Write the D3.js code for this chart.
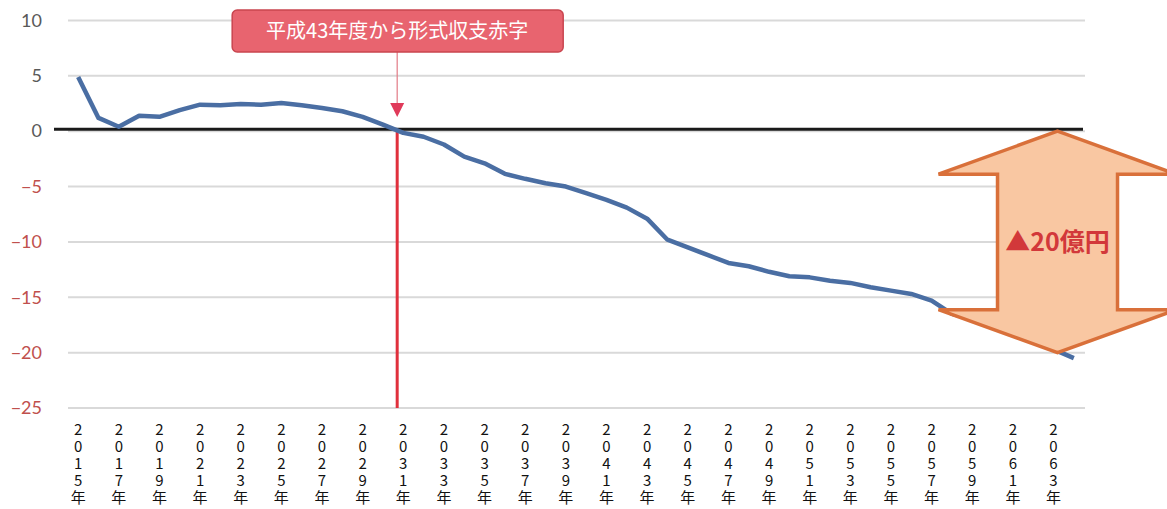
<!DOCTYPE html>
<html>
<head>
<meta charset="utf-8">
<script src="https://cdn.jsdelivr.net/npm/d3@7"></script>
<style>
  body { margin: 0; background: #fff; }
  svg { display: block; }
</style>
</head>
<body>
<svg></svg>
<script>
window.onload = () => {

  const width = 1167;
  const height = 509;

  // 2015年〜2064年 の収支（億円）
  const years = d3.range(2015, 2065);
  const balance = [
    4.9, 1.2, 0.4, 1.4, 1.3, 1.9, 2.4, 2.35, 2.45, 2.4,
    2.55, 2.35, 2.1, 1.8, 1.3, 0.6, -0.15, -0.5, -1.2, -2.3,
    -2.9, -3.85, -4.3, -4.7, -5.0, -5.6, -6.2, -6.9, -7.9, -9.8,
    -10.5, -11.2, -11.9, -12.2, -12.7, -13.1, -13.2, -13.5, -13.7, -14.1,
    -14.4, -14.7, -15.3, -16.5, -17.0, -17.6, -18.2, -18.9, -19.7, -20.5
  ];
  const yTicks = [10, 5, 0, -5, -10, -15, -20, -25];
  const xTickYears = years.filter(y => (y - 2015) % 2 === 0);

  const deficitYear = 2031;
  const calloutText = '平成43年度から形式収支赤字';
  const gapValue = -20;
  const gapText = '▲20億円';

  const svg = d3.select('svg').attr('width', width).attr('height', height);

  const x = d3.scaleBand().domain(years).range([68, 1084]);
  const y = d3.scaleLinear().domain([-25, 10]).range([408, 20.5]);
  const cx = yr => x(yr) + x.bandwidth() / 2;

  // grid
  svg.append('g')
    .selectAll('line')
    .data(yTicks)
    .enter()
    .append('line')
    .attr('x1', 68).attr('x2', 1085)
    .attr('y1', d => y(d)).attr('y2', d => y(d))
    .attr('stroke', '#d9d9d9')
    .attr('stroke-width', 2);

  // y axis labels
  const yAxis = svg.append('g')
    .attr('transform', 'translate(68,0)')
    .call(d3.axisLeft(y).tickValues(yTicks).tickSize(0).tickPadding(26));
  yAxis.select('.domain').remove();
  yAxis.selectAll('text')
    .attr('font-family', 'Lato, "Open Sans", sans-serif')
    .attr('font-size', 18)
    .attr('fill', d => d < 0 ? '#c0504d' : '#595959');

  // x axis labels (vertical)
  const xAxis = svg.append('g')
    .attr('transform', 'translate(0,408)')
    .call(d3.axisBottom(x).tickValues(xTickYears).tickSize(0).tickFormat(''));
  xAxis.select('.domain').remove();
  xAxis.selectAll('.tick text').each(function(d) {
    const t = d3.select(this)
      .attr('y', 0)
      .attr('font-family', '"Noto Sans CJK JP", sans-serif')
      .attr('font-size', 15)
      .attr('fill', '#111');
    (d + '年').split('').forEach((c, i) => {
      t.append('tspan').attr('x', 0).attr('dy', i === 0 ? 27 : 17).text(c);
    });
  });

  // zero line
  svg.append('line')
    .attr('x1', 54).attr('x2', 1083)
    .attr('y1', y(0) - 2).attr('y2', y(0) - 2)
    .attr('stroke', '#1a1a1a')
    .attr('stroke-width', 3);

  // deficit vertical line
  const redX = x(deficitYear) + x.bandwidth() * 0.2;
  svg.append('line')
    .attr('x1', redX).attr('x2', redX)
    .attr('y1', y(0)).attr('y2', y(-25))
    .attr('stroke', '#e0303c')
    .attr('stroke-width', 3);

  // series line
  const line = d3.line()
    .x((d, i) => cx(years[i]))
    .y(d => y(d));
  svg.append('path')
    .datum(balance)
    .attr('d', line)
    .attr('fill', 'none')
    .attr('stroke', '#4a6ea3')
    .attr('stroke-width', 4.5)
    .attr('stroke-linejoin', 'round');

  // callout
  const box = svg.append('g');
  box.append('line')
    .attr('x1', redX).attr('x2', redX)
    .attr('y1', 52).attr('y2', 104)
    .attr('stroke', '#e27a86')
    .attr('stroke-width', 1.2);
  box.append('path')
    .attr('d', `M${redX - 7},103 L${redX + 7},103 L${redX},117 Z`)
    .attr('fill', '#e03a5a');
  box.append('rect')
    .attr('x', redX - 165).attr('y', 10)
    .attr('width', 331).attr('height', 42)
    .attr('rx', 5)
    .attr('fill', '#e8646f')
    .attr('stroke', '#c9454f')
    .attr('stroke-width', 1.5);
  box.append('text')
    .attr('x', redX).attr('y', 38)
    .attr('text-anchor', 'middle')
    .attr('font-family', '"Noto Sans CJK JP", sans-serif')
    .attr('font-size', 20)
    .attr('fill', '#fff')
    .text(calloutText);

  // double arrow for the gap
  const ax = cx(2063) + 4;
  const top = y(0), bot = y(gapValue);
  const headH = 43, headW = 119, shaftW = 60;
  const arrow = [
    [ax, top], [ax + headW, top + headH], [ax + shaftW, top + headH],
    [ax + shaftW, bot - headH], [ax + headW, bot - headH], [ax, bot],
    [ax - headW, bot - headH], [ax - shaftW, bot - headH],
    [ax - shaftW, top + headH], [ax - headW, top + headH]
  ];
  svg.append('path')
    .attr('d', 'M' + arrow.map(p => p.join(',')).join('L') + 'Z')
    .attr('fill', '#f9c7a2')
    .attr('stroke', '#d9703a')
    .attr('stroke-width', 3.5)
    .attr('stroke-linejoin', 'miter');
  svg.append('text')
    .attr('x', ax).attr('y', y(gapValue / 2) + 9)
    .attr('text-anchor', 'middle')
    .attr('font-family', '"Noto Sans CJK JP", sans-serif')
    .attr('font-size', 25)
    .attr('font-weight', 'bold')
    .attr('fill', '#d2383a')
    .text(gapText);

};
</script>
</body>
</html>
